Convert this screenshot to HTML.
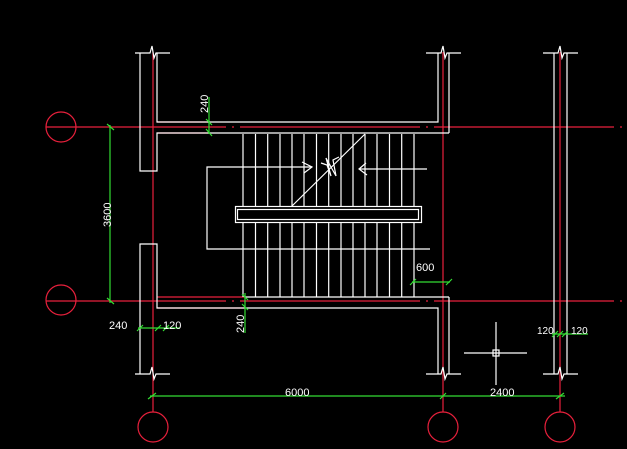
<!DOCTYPE html>
<html><head><style>html,body{margin:0;padding:0;background:#000;width:627px;height:449px;overflow:hidden}</style></head><body>
<svg width="627" height="449" xmlns="http://www.w3.org/2000/svg" style="display:block">
<rect width="627" height="449" fill="#000"/>
<g stroke="#e8203c" stroke-width="1.2" fill="none">
<line x1="46" y1="127" x2="627" y2="127" stroke-dasharray="180,6,2,6"/>
<line x1="46" y1="301" x2="627" y2="301" stroke-dasharray="180,6,2,6"/>
<line x1="153" y1="52" x2="153" y2="412"/>
<line x1="443" y1="52" x2="443" y2="412"/>
<line x1="560" y1="52" x2="560" y2="412"/>
<line x1="157" y1="122" x2="210" y2="122"/><line x1="157" y1="133" x2="210" y2="133"/>
<line x1="157" y1="297" x2="245" y2="297"/><line x1="157" y1="308" x2="245" y2="308"/>
<circle cx="61" cy="127" r="15"/><circle cx="61" cy="300" r="15"/>
<circle cx="153" cy="427" r="15"/><circle cx="443" cy="427" r="15"/><circle cx="560" cy="427" r="15"/>
</g>
<g stroke="#fff" stroke-width="1.2" fill="none">
<polyline points="140,53 140,171 157,171 157,133 213,133"/>
<polyline points="157,53 157,122 438,122 438,53"/>
<line x1="213" y1="133" x2="449" y2="133"/><line x1="449" y1="53" x2="449" y2="133"/>
<polyline points="140,374 140,244 157,244 157,308 438,308 438,374"/>
<line x1="245" y1="297" x2="449" y2="297"/><line x1="449" y1="297" x2="449" y2="374"/>
<line x1="554" y1="53" x2="554" y2="374"/><line x1="567" y1="53" x2="567" y2="374"/>
<path d="M135 53H150L152 46L154 58L156 53H170M135 374H150L152 367L154 379L156 374H170"/>
<path d="M426 53H441L443 46L445 58L447 53H461M426 374H441L443 367L445 379L447 374H461"/>
<path d="M543 53H558L560 46L562 58L564 53H578M543 374H558L560 367L562 379L564 374H578"/>
<path d="M243 134V206M255.5 134V206M267.7 134V206M280 134V206M292 134V206M304 134V206M316.5 134V206M328.7 134V206M341 134V206M353 134V206M365 134V206M377 134V206M389.5 134V206M401.7 134V206M414 134V206"/>
<path d="M243 222V297M255.5 222V297M267.7 222V297M280 222V297M292 222V297M304 222V297M316.5 222V297M328.7 222V297M341 222V297M353 222V297M365 222V297M377 222V297M389.5 222V297M401.7 222V297M414 222V297"/>
<rect x="235.5" y="206.5" width="186" height="16"/>
<rect x="237.5" y="209.5" width="181" height="10"/>
<polyline points="243,167 207,167 207,249 430,249"/>
<line x1="243" y1="167" x2="312" y2="167"/>
<path d="M302 162L312 167L304 173"/>
<line x1="360" y1="169" x2="427" y2="169"/>
<path d="M366 163L359 169L367 175"/>
<line x1="292" y1="206" x2="365" y2="134"/>
<path d="M321 163L327 165L331 176L326 158L336 176L333 160L339 157"/>
<line x1="464" y1="353" x2="527" y2="353"/><line x1="496" y1="322" x2="496" y2="385"/>
<rect x="493" y="350" width="6" height="6"/>
</g>
<g stroke="#33dd33" stroke-width="1.2" fill="none">
<line x1="110" y1="125" x2="110" y2="303"/>
<path d="M107 124L114 130M107 298L114 304"/>
<line x1="209" y1="97" x2="209" y2="134"/>
<path d="M206 119L212 125M206 129L212 136"/>
<line x1="245" y1="293" x2="245" y2="333"/>
<path d="M242 294L248 300M242 304L248 310"/>
<line x1="412" y1="282" x2="450" y2="282"/>
<path d="M410 285L416 279M446 285L452 279"/>
<line x1="138" y1="328" x2="180" y2="328"/>
<path d="M137 331L143 325M155 331L161 325M163 331L169 325"/>
<line x1="150" y1="396" x2="565" y2="396"/>
<path d="M148 399L156 393M440 399L446 393M556 399L564 393"/>
<line x1="552" y1="334" x2="588" y2="334"/>
<path d="M552 337L558 331M557 337L563 331M562 337L568 331"/>
</g>
<g fill="#fff" font-family="Liberation Sans, sans-serif" font-size="11">
<text x="109" y="329">240</text>
<text x="163" y="329">120</text>
<text x="416" y="271">600</text>
<text x="285" y="396">6000</text>
<text x="490" y="396">2400</text>
<text x="537" y="334" font-size="10">120</text>
<text x="571" y="334" font-size="10">120</text>
<text transform="translate(111,227) rotate(-90)">3600</text>
<text transform="translate(208,113) rotate(-90)">240</text>
<text transform="translate(244,333) rotate(-90)">240</text>
</g>
</svg>
</body></html>
